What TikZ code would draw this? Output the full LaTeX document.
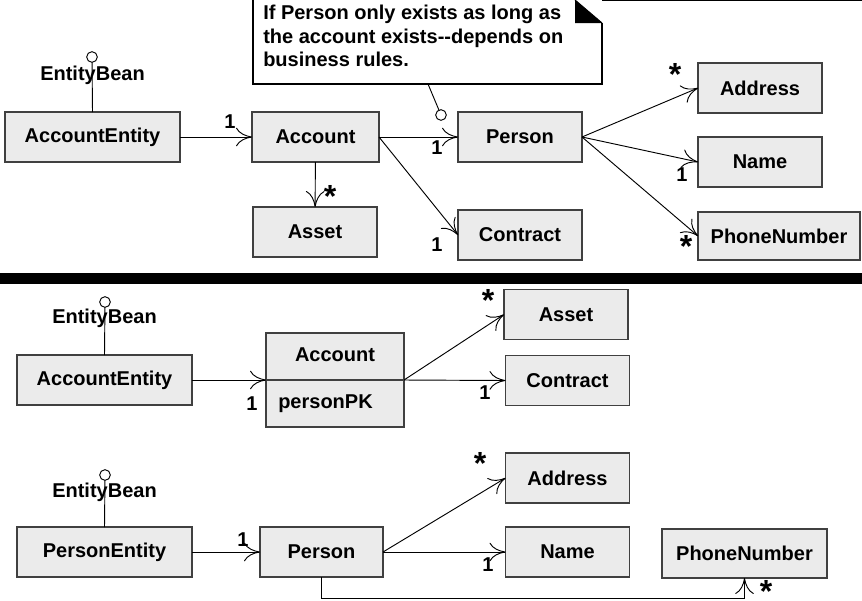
\documentclass[tikz,border=0pt]{standalone}
\usepackage{fontspec}
\setmainfont{Liberation Sans}
\usetikzlibrary{arrows.meta}
\definecolor{boxfill}{HTML}{EBEBEB}
\definecolor{boxline}{HTML}{404040}

\begin{document}
\begin{tikzpicture}[x=0.75pt,y=-0.75pt,
  every node/.style={font=\fontsize{15}{17.5}\selectfont\bfseries},
  cls/.style={draw=boxline, fill=boxfill, line width=0.9pt, rectangle,
    inner sep=0pt, outer sep=0pt, minimum width=93pt, minimum height=37.5pt},
  assoc/.style={draw=black, line width=0.7pt,
    -{Computer Modern Rightarrow[length=12pt,width=14pt,line width=0.7pt]}},
  plain/.style={draw=black, line width=0.7pt},
  knob/.style={circle, draw=black, fill=white, line width=0.7pt,
    minimum size=8pt, inner sep=0pt, outer sep=0pt},
  mult/.style={inner sep=0pt},
  starlbl/.style={inner sep=0pt, font=\fontsize{24}{24}\selectfont\bfseries},
  lbl/.style={inner sep=0pt},
]
\useasboundingbox (0,0) rectangle (862,600);

% ---------- note ----------
\draw[line width=0.8pt] (253,-2) -- (253,84) -- (602,84) -- (602,23);
\fill (575,0) -- (575,23) -- (602,23) -- cycle;
\draw[line width=0.8pt] (575,0) -- (602,23);
\draw[line width=0.8pt] (602,0.5) -- (862,0.5);
\node[anchor=north west, align=left, inner sep=0pt] (notetext) at (263,5)
  {If Person only exists as long as\\the account exists-{}-depends on\\business rules.};
\coordinate (notefoot) at (428,84);
\node[knob] (noteknob) at (441,115) {};
\draw[plain] (notefoot) -- (noteknob);

% ---------- upper model ----------
\node[cls, minimum width=131.25pt] (ae1) at (92.5,137) {AccountEntity};
\node[cls, minimum width=95.25pt] (acc1) at (315.5,137) {Account};
\node[cls] (asset1) at (315,232) {Asset};
\node[cls] (person1) at (520,137) {Person};
\node[cls] (contract1) at (520,235) {Contract};
\node[cls] (address1) at (760,88) {Address};
\node[cls] (name1) at (760,162) {Name};
\node[cls, minimum width=121.5pt, minimum height=36pt] (phone1) at (779,236) {PhoneNumber};

\node[knob] (eb1k) at (92,57) {};
\draw[plain] (ae1.north) -- (eb1k);
\node[lbl] (eb1) at (92.5,75) {EntityBean};

\draw[assoc] (ae1) -- (acc1);
\draw[assoc] (acc1) -- (asset1);
\draw[assoc] (acc1.east) -- (person1.west);
\draw[assoc] (acc1.east) -- (contract1.west);
\draw[assoc] (person1.east) -- (address1.west);
\draw[assoc] (person1.east) -- (name1.west);
\draw[assoc] (person1.east) -- (phone1.west);

\node[mult] (m1) at (230,122) {1};
\node[starlbl] (m2) at (330,196) {*};
\node[mult] (m3) at (437,148) {1};
\node[mult] (m4) at (437,245) {1};
\node[starlbl] (m5) at (675,74) {*};
\node[mult] (m6) at (682,175) {1};
\node[starlbl] (m7) at (686,246) {*};

% ---------- separator ----------
\fill (0,273) rectangle (862,284);

% ---------- account entity ----------
\node[cls, minimum width=131.25pt] (ae2) at (104.5,380) {AccountEntity};
\node[cls, minimum width=103.5pt, minimum height=70.5pt] (acc2) at (335,380) {};
\draw[draw=boxline, line width=0.9pt] (acc2.west) -- (acc2.east);
\node[lbl] (acc2name) at (335,355) {Account};
\node[lbl, anchor=west] (acc2attr) at (278,404) {personPK};
\node[cls] (asset2) at (566,314.5) {Asset};
\node[cls] (contract2) at (567.5,380.5) {Contract};

\node[knob] (eb2k) at (105,302) {};
\draw[plain] (ae2.north) -- (eb2k);
\node[lbl] (eb2) at (104.5,318) {EntityBean};

\draw[assoc] (ae2.east) -- (acc2.west);
\draw[assoc] (acc2.east) -- (asset2.west);
\draw[assoc] (acc2.east) -- (contract2.west);

\node[mult] (m8) at (252,404) {1};
\node[starlbl] (m9) at (488,300) {*};
\node[mult] (m10) at (485,393) {1};

% ---------- person entity ----------
\node[cls, minimum width=131.25pt] (pe) at (104.5,552) {PersonEntity};
\node[cls, minimum width=92.25pt] (person2) at (321.5,552) {Person};
\node[cls] (address2) at (567.5,478) {Address};
\node[cls] (name2) at (567.5,552) {Name};
\node[cls, minimum width=123.75pt, minimum height=36.75pt] (phone2) at (744.5,553.5) {PhoneNumber};

\node[knob] (eb3k) at (105,475) {};
\draw[plain] (pe.north) -- (eb3k);
\node[lbl] (eb3) at (104.5,492) {EntityBean};

\draw[assoc] (pe.east) -- (person2.west);
\draw[assoc] (person2.east) -- (address2.west);
\draw[assoc] (person2.east) -- (name2.west);
\draw[assoc] (person2.south) |- (744.5,598.5) -- (phone2.south);

\node[mult] (m11) at (243,540) {1};
\node[starlbl] (m12) at (480,463) {*};
\node[mult] (m13) at (488,565) {1};
\node[starlbl] (m14) at (766,591) {*};
\end{tikzpicture}
\end{document}
